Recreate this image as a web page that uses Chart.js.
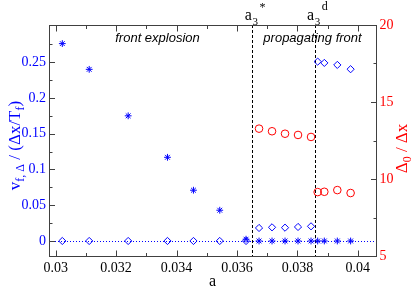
<!DOCTYPE html>
<html>
<head>
<meta charset="utf-8">
<script src="https://cdn.jsdelivr.net/npm/chart.js@4"></script>
<style>
  html, body { margin: 0; padding: 0; background: #fff; }
</style>
</head>
<body>
<canvas id="chartMain" width="415" height="287"></canvas>
<script>
/*********************************/
// front velocity / width chart  //
/*********************************/

// velocity v_f,Delta (stars)
const aStar = [0.03022, 0.03111, 0.03240, 0.03370, 0.03456, 0.03543, 0.03630,
               0.03673, 0.03716, 0.03759, 0.03802, 0.03845, 0.03867, 0.03889, 0.03932, 0.03976];
const vStar = [0.276, 0.240, 0.175, 0.117, 0.071, 0.043, 0.0025,
               0, 0, 0, 0, 0, 0, 0, 0, 0];

// velocity v_f,Delta (diamonds)
const aDiamond = [0.03022, 0.03111, 0.03240, 0.03370, 0.03456, 0.03543, 0.03630,
                  0.03673, 0.03716, 0.03759, 0.03802, 0.03845, 0.03867, 0.03889, 0.03932, 0.03976];
const vDiamond = [0, 0, 0, 0, 0, 0, 0,
                  0.0182, 0.0191, 0.0186, 0.0196, 0.0205, 0.2508, 0.2490, 0.2462, 0.2402];

// width Delta_0 / Delta x (circles, right axis)
const aCircle = [0.03673, 0.03716, 0.03759, 0.03802, 0.03845, 0.03867, 0.03889, 0.03932, 0.03976];
const wCircle = [13.27, 13.10, 12.94, 12.86, 12.73, 9.15, 9.17, 9.28, 9.09];

// critical values a3* and a3d
const aCrit = [0.03651, 0.03857];
const critSup = ['*', 'd'];

// ticks
const xTicks = [0.03, 0.032, 0.034, 0.036, 0.038, 0.04];
const xMinor = [0.031, 0.033, 0.035, 0.037, 0.039];
const yTicks = [0, 0.05, 0.1, 0.15, 0.2, 0.25];
const yMinor = [0.025, 0.075, 0.125, 0.175, 0.225, 0.275];
const y2Ticks = [5, 10, 15, 20];
const y2Minor = [7.5, 12.5, 17.5];

const BLUE = '#0000ff';
const RED = '#ff0000';
const FRAME = '#404040';
const SERIF = '"Liberation Serif", "Times New Roman", serif';
const SANS = '"Liberation Sans", Arial, sans-serif';

function pts(xs, ys) {
  return xs.map(function (x, i) { return { x: x, y: ys[i] }; });
}

// draw text made of pieces [text, size, shift]
function richText(ctx, parts, x, y, centered) {
  var widths = parts.map(function (p) {
    ctx.font = p[1] + 'px ' + SERIF;
    return ctx.measureText(p[0]).width;
  });
  var total = widths.reduce(function (s, w) { return s + w; }, 0);
  var cx = centered ? x - total / 2 : x;
  parts.forEach(function (p, i) {
    ctx.font = p[1] + 'px ' + SERIF;
    ctx.fillText(p[0], cx, y + p[2]);
    cx += widths[i];
  });
}

function line(ctx, x1, y1, x2, y2) {
  ctx.beginPath();
  ctx.moveTo(x1, y1);
  ctx.lineTo(x2, y2);
  ctx.stroke();
}

// frame, inward ticks, reference lines and labels
const decor = {
  id: 'decor',
  beforeDatasetsDraw: function (chart) {
    var ctx = chart.ctx, area = chart.chartArea;
    var x = chart.scales.x, y = chart.scales.y;
    ctx.save();
    ctx.lineWidth = 1;
    // zero line
    ctx.strokeStyle = BLUE;
    ctx.setLineDash([1, 2]);
    var y0 = Math.round(y.getPixelForValue(0)) + 0.5;
    line(ctx, area.left, y0, area.right, y0);
    // critical a lines
    ctx.strokeStyle = '#000';
    ctx.setLineDash([3, 2]);
    aCrit.forEach(function (a) {
      var px = Math.round(x.getPixelForValue(a)) + 0.5;
      line(ctx, px, area.top, px, area.bottom);
    });
    ctx.restore();
  },
  afterDraw: function (chart) {
    var ctx = chart.ctx, area = chart.chartArea;
    var x = chart.scales.x, y = chart.scales.y, y2 = chart.scales.y2;
    var L = area.left + 0.5, R = Math.round(area.right) + 0.5;
    var T = area.top + 0.5, B = Math.round(area.bottom) + 0.5;
    ctx.save();
    ctx.strokeStyle = FRAME;
    ctx.lineWidth = 1;
    ctx.strokeRect(L, T, R - L, B - T);

    function xt(vals, len) {
      vals.forEach(function (v) {
        var px = Math.round(x.getPixelForValue(v)) + 0.5;
        line(ctx, px, B, px, B - len);
        line(ctx, px, T, px, T + len);
      });
    }
    function yt(scale, vals, len, left) {
      vals.forEach(function (v) {
        var py = Math.round(scale.getPixelForValue(v)) + 0.5;
        if (left) line(ctx, L, py, L + len, py);
        else line(ctx, R, py, R - len, py);
      });
    }
    xt(xTicks, 6); xt(xMinor, 3.5);
    yt(y, yTicks, 5.5, true); yt(y, yMinor, 3, true);
    yt(y2, y2Ticks, 5.5, false); yt(y2, y2Minor, 3, false);

    // region labels
    ctx.fillStyle = '#000';
    ctx.textAlign = 'center';
    ctx.textBaseline = 'alphabetic';
    ctx.font = 'italic 13px ' + SANS;
    ctx.fillText('front explosion', 157.5, 42);
    ctx.fillText('propagating front', 312.5, 41.5);

    // a3* and a3d above the frame
    ctx.textAlign = 'left';
    aCrit.forEach(function (a, i) {
      var px = x.getPixelForValue(a);
      ctx.font = '16px ' + SERIF;
      var wa = ctx.measureText('a').width;
      ctx.fillText('a', px - wa - 0.5, 20);
      ctx.font = '11px ' + SERIF;
      ctx.fillText('3', px, 25);
      var w3 = ctx.measureText('3').width;
      ctx.font = '12px ' + SERIF;
      ctx.fillText(critSup[i], px + w3 + 1.5, i === 0 ? 11 : 10);
    });

    // axis titles
    ctx.textAlign = 'center';
    ctx.font = '16px ' + SERIF;
    ctx.fillText('a', (area.left + area.right) / 2, 285.5);

    ctx.textAlign = 'left';
    ctx.save();
    ctx.fillStyle = BLUE;
    ctx.translate(20, 145.5);
    ctx.rotate(-Math.PI / 2);
    richText(ctx, [['v', 17, 0], ['f, \u0394', 12, 4], [' / (\u0394x/T', 17, 0], ['f', 12, 4], [')', 17, 0]], 0, 0, true);
    ctx.restore();

    ctx.save();
    ctx.fillStyle = RED;
    ctx.translate(407, 148.5);
    ctx.rotate(-Math.PI / 2);
    richText(ctx, [['\u0394', 17, 0], ['0', 12, 4], [' / \u0394x', 17, 0]], 0, 0, true);
    ctx.restore();

    ctx.restore();
  }
};

const tickFont = { family: SERIF, size: 14 };

var ctx = document.getElementById('chartMain');
var chartMain = new Chart(ctx, {
  type: 'scatter',
  data: {
    datasets: [{
      data: pts(aCircle, wCircle),
      yAxisID: 'y2',
      pointStyle: 'circle',
      pointRadius: 3.8,
      borderColor: RED,
      backgroundColor: 'rgba(0,0,0,0)',
      borderWidth: 1
    }, {
      data: pts(aDiamond, vDiamond),
      yAxisID: 'y',
      pointStyle: 'rectRot',
      pointRadius: 3.6,
      borderColor: BLUE,
      backgroundColor: 'rgba(0,0,0,0)',
      borderWidth: 1
    }, {
      data: pts(aStar, vStar),
      yAxisID: 'y',
      pointStyle: 'star',
      pointRadius: 3.4,
      borderColor: BLUE,
      backgroundColor: BLUE,
      borderWidth: 1
    }]
  },
  options: {
    responsive: false,
    animation: false,
    layout: { padding: { top: 25, left: 0, right: 0, bottom: 0 } },
    plugins: { legend: { display: false }, tooltip: { enabled: false } },
    scales: {
      x: {
        type: 'linear',
        position: 'bottom',
        min: 0.02978,
        max: 0.0406,
        grid: { display: false, drawTicks: false },
        border: { display: false },
        ticks: { font: tickFont, color: '#000', padding: 4, autoSkip: false, maxRotation: 0,
                 callback: function (v) { return String(v); } },
        afterBuildTicks: function (s) { s.ticks = xTicks.map(function (v) { return { value: v }; }); },
        afterFit: function (s) { s.height = 31; }
      },
      y: {
        type: 'linear',
        position: 'left',
        min: -0.021,
        max: 0.302,
        grid: { display: false, drawTicks: false },
        border: { display: false },
        ticks: { font: tickFont, color: BLUE, padding: 3, autoSkip: false,
                 callback: function (v) { return String(v); } },
        afterBuildTicks: function (s) { s.ticks = yTicks.map(function (v) { return { value: v }; }); },
        afterFit: function (s) { s.width = 49; }
      },
      y2: {
        type: 'linear',
        position: 'right',
        min: 5,
        max: 20,
        grid: { display: false, drawTicks: false },
        border: { display: false },
        ticks: { font: tickFont, color: RED, padding: 3.5, autoSkip: false,
                 callback: function (v) { return String(v); } },
        afterBuildTicks: function (s) { s.ticks = y2Ticks.map(function (v) { return { value: v }; }); },
        afterFit: function (s) { s.width = 39; }
      }
    }
  },
  plugins: [decor]
});
</script>
</body>
</html>
